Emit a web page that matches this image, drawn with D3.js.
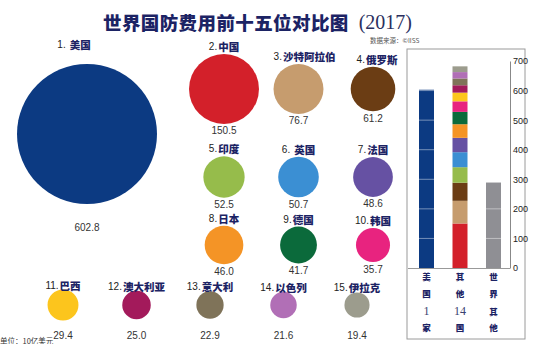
<!DOCTYPE html>
<html><head><meta charset="utf-8">
<script src="https://cdn.jsdelivr.net/npm/d3@7"></script>
<style>
html,body{margin:0;padding:0;background:#fff;overflow:hidden}
svg{display:block}
</style></head>
<body>
<svg id="c" width="550" height="344"></svg>
<script>
// ---- data ----
const names = ["美国","中国","沙特阿拉伯","俄罗斯","印度","英国","法国","日本","德国","韩国","巴西","澳大利亚","意大利","以色列","伊拉克"];
const values = [602.8,150.5,76.7,61.2,52.5,50.7,48.6,46.0,41.7,35.7,29.4,25.0,22.9,21.6,19.4];
const colors = ["#0c3a82","#d3202a","#c69c6e","#6b3d14","#96bc4b","#3b8fd3","#6651a3","#f49426","#0b6a3b","#e8237f","#fcc51d","#a31a5b","#7f7359","#b16fb6","#9c9c8d"];
const barKeys = ["us","others","world"];
const barLabels = [["美","国","1","家"],["其","他","14","国"],["世","界","其","他"]];
const worldOther = 289;
const worldOtherColor = "#8f8f94";
const yTicks = [0,100,200,300,400,500,600,700];
const titleText = "世界国防费用前十五位对比图";
const titleYear = "(2017)";
const sourceText = "数据来源：©IISS";
const unitText = "单位：10亿美元";

// ---- layout ----
const svg = d3.select("#c");
const NAVY = "#1c2364";
const CJK = "'Noto Sans CJK SC', sans-serif";
const NARROW = "'Liberation Sans Narrow','Arial Narrow','Liberation Sans',sans-serif";

const r = d3.scaleSqrt().domain([0, values[0]]).range([0, 70]);
const gridX = d3.scaleLinear().domain([0, 2]).range([224, 373]);
const gridY = d3.scaleOrdinal().domain([0, 1, 2]).range([89, 177, 245]);
const botX = d3.scaleLinear().domain([0, 4]).range([63, 357]);
const botY = 305;

const items = names.map((n, i) => {
  let cx, cy, row;
  if (i === 0) { cx = 87; cy = 134; row = -1; }
  else if (i <= 9) { row = Math.floor((i - 1) / 3); cx = gridX((i - 1) % 3); cy = gridY(row); }
  else { row = 3; cx = botX(i - 10); cy = botY; }
  return { name: n, value: values[i], color: colors[i], idx: i, cx, cy, row, rad: r(values[i]) };
});

// title
const t = svg.append("text").attr("x", 103).attr("y", 22).attr("dominant-baseline", "central");
t.append("tspan").text(titleText).attr("font-family", CJK).attr("font-weight", 900)
  .attr("font-size", 18.5).attr("fill", NAVY).attr("letter-spacing", 0.4);
t.append("tspan").text(titleYear).attr("dx", 10).attr("font-family", "'Liberation Serif','DejaVu Serif',serif")
  .attr("font-size", 20).attr("fill", "#2a2f5e");
svg.append("text").attr("x", 370).attr("y", 43).attr("font-family", CJK).attr("font-size", 6.5)
  .attr("fill", "#555").text(sourceText);

// circles
const g = svg.append("g");
g.selectAll("circle").data(items).join("circle")
  .attr("cx", d => d.cx).attr("cy", d => d.cy).attr("r", d => d.rad).attr("fill", d => d.color);

// names
const nameY = d => d.idx === 0 ? 44 : (d.row === 3 ? d.cy - d.rad - 5 : d.cy - d.rad - 8);
const nameX = d => d.idx === 0 ? 74 : d.cx + (d.idx === 2 ? 6 : d.idx === 3 ? 4 : 0);
const labels = g.selectAll("text.name").data(items).join("text").attr("class", "name")
  .attr("x", nameX).attr("y", nameY).attr("text-anchor", "middle").attr("dominant-baseline", "central");
labels.append("tspan").text(d => (d.idx + 1) + ".").attr("font-family", NARROW).attr("font-size", 10).attr("fill", "#222");
labels.append("tspan").text(d => d.name).attr("dx", d => (d.idx === 0 || d.idx === 5) ? 4 : 1)
  .attr("font-family", CJK).attr("font-weight", 900).attr("font-size", 10.5).attr("fill", NAVY);

// values
g.selectAll("text.val").data(items).join("text").attr("class", "val")
  .attr("x", d => d.cx)
  .attr("y", d => d.idx === 0 ? 227 : (d.row === 3 ? 335 : d.cy + d.rad + 7))
  .attr("text-anchor", "middle").attr("dominant-baseline", "central")
  .attr("font-family", NARROW).attr("font-size", 10).attr("fill", "#333")
  .text(d => d.value.toFixed(1));

// unit
svg.append("text").attr("x", 0).attr("y", 340).attr("dominant-baseline", "central")
  .attr("font-family", CJK).attr("font-size", 7.5).attr("fill", "#333").text(unitText);

// ---- bar panel ----
svg.append("rect").attr("x", 407).attr("y", 49).attr("width", 118).attr("height", 290)
  .attr("fill", "none").attr("stroke", "#9a9a9a").attr("stroke-width", 1);

const y = d3.scaleLinear().domain([0, 700]).range([268, 61]);
const x = d3.scalePoint().domain(barKeys).range([426.5, 493.5]);
const bw = 15;

// US bar
svg.append("rect").attr("x", x("us") - bw / 2).attr("y", y(values[0])).attr("width", bw)
  .attr("height", y(0) - y(values[0])).attr("fill", colors[0]);

// stacked others
const stackKeys = names.slice(1);
const row = {}; stackKeys.forEach((k, i) => row[k] = values[i + 1]);
const series = d3.stack().keys(stackKeys)([row]);
svg.append("g").selectAll("rect").data(series).join("rect")
  .attr("x", x("others") - bw / 2).attr("width", bw)
  .attr("y", s => y(s[0][1])).attr("height", s => y(s[0][0]) - y(s[0][1]))
  .attr("fill", (s, i) => colors[i + 1]);

// world other
svg.append("rect").attr("x", x("world") - bw / 2).attr("y", y(worldOther)).attr("width", bw)
  .attr("height", y(0) - y(worldOther)).attr("fill", worldOtherColor);

// white gridlines over the US and world bars
["us", "world"].forEach(k => {
  svg.append("g").selectAll("line").data(yTicks.slice(1, -1)).join("line")
    .attr("x1", x(k) - bw / 2).attr("x2", x(k) + bw / 2).attr("y1", d => y(d)).attr("y2", d => y(d))
    .attr("stroke", "#fff").attr("stroke-opacity", 0.55).attr("stroke-width", 0.8);
});

// baseline
svg.append("line").attr("x1", 408).attr("x2", 510).attr("y1", y(0) + 0.5).attr("y2", y(0) + 0.5)
  .attr("stroke", "#999").attr("stroke-width", 1);

// axis
const ax = svg.append("g").attr("transform", "translate(510,0)")
  .call(d3.axisRight(y).tickValues(yTicks).tickSize(0).tickPadding(3));
ax.select(".domain").attr("stroke", "#888");
ax.selectAll("text").attr("font-family", NARROW).attr("font-size", 9).attr("fill", "#222");

// vertical category labels
const rowYs = [276, 293, 311, 327];
barKeys.forEach((k, i) => {
  svg.append("g").selectAll("text").data(barLabels[i]).join("text")
    .attr("x", x(k)).attr("y", (d, j) => rowYs[j])
    .attr("text-anchor", "middle").attr("dominant-baseline", "central")
    .attr("font-family", d => /\d/.test(d) ? "'Liberation Serif',serif" : CJK)
    .attr("font-weight", d => /\d/.test(d) ? 400 : 900)
    .attr("font-size", d => /\d/.test(d) ? 12 : 8.5)
    .attr("fill", d => /\d/.test(d) ? "#3a4270" : NAVY)
    .text(d => d);
});
</script>
</body></html>
